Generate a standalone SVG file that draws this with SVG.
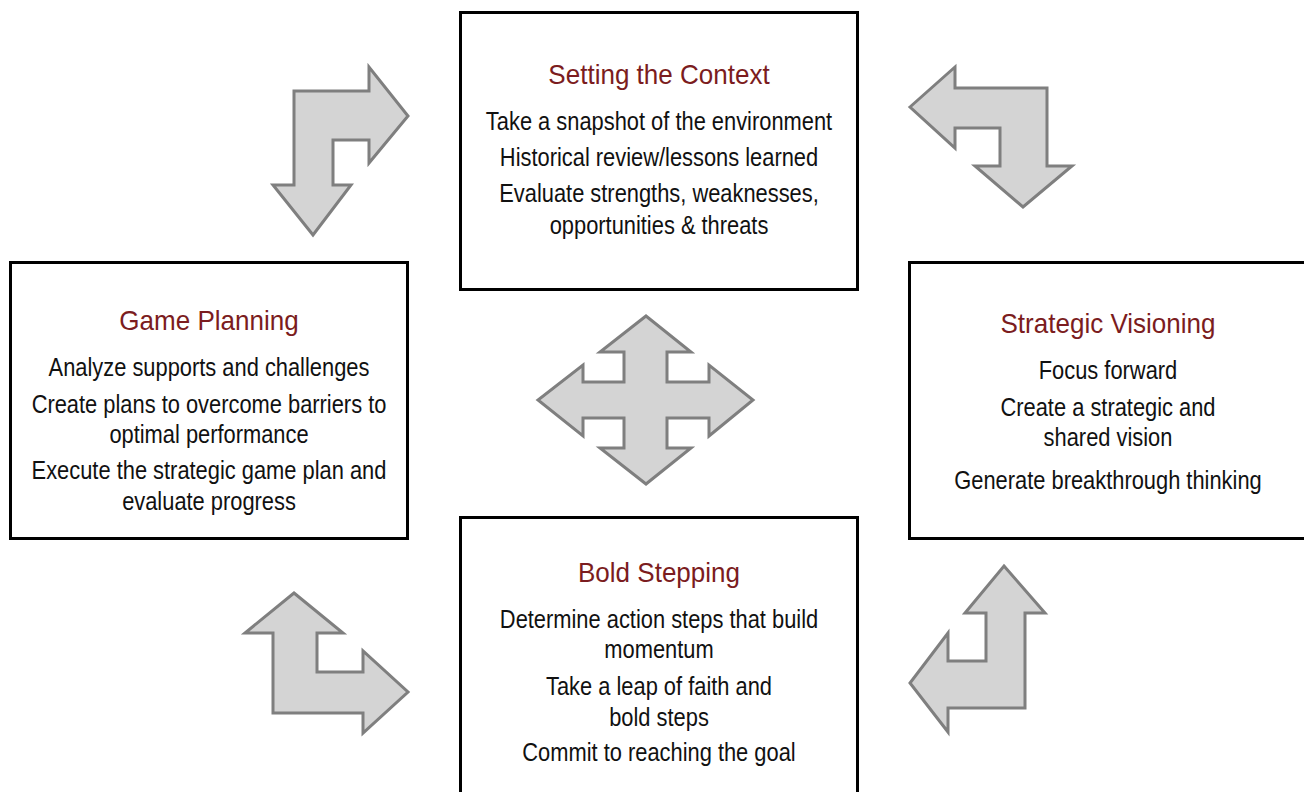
<svg xmlns="http://www.w3.org/2000/svg" width="1304" height="792" viewBox="0 0 1304 792">
<style>
.box{fill:#fff;stroke:#000;stroke-width:3}
.arr{fill:#d4d4d4;stroke:#7f7f7f;stroke-width:3;stroke-linejoin:miter}
.t{font-family:"Liberation Sans",Arial,sans-serif;font-size:28px;fill:#7b1c20;text-anchor:middle}
.b{font-family:"Liberation Sans",Arial,sans-serif;font-size:25px;fill:#111;text-anchor:middle}
</style>
<rect width="1304" height="792" fill="#fff"/>
<g id="connectors">
<path class="arr" d="M294,91 L369,91 L369,67 L408,116 L369,163 L369,140 L333,140 L333,185 L351,185 L313,235 L273,185 L294,185 Z"/>
<path class="arr" d="M910,107 L955,67 L955,88 L1047,88 L1047,166 L1072,166 L1023,207 L975,166 L1000,166 L1000,128 L955,128 L955,148 Z"/>
<path class="arr" d="M646,316 L691,352 L667,352 L667,382 L709,382 L709,365 L753,400 L709,436 L709,418 L667,418 L667,448 L691,448 L646,484 L600,448 L624,448 L624,418 L583,418 L583,436 L538,400 L583,365 L583,382 L624,382 L624,352 L600,352 Z"/>
<path class="arr" d="M294,593 L343,633 L317,633 L317,672 L363,672 L363,651 L408,692 L363,733 L363,713 L273,713 L273,633 L245,633 Z"/>
<path class="arr" d="M1004,566 L1045,613 L1025,613 L1025,708 L948,708 L948,732 L910,683 L948,633 L948,661 L986,661 L986,613 L965,613 Z"/>
</g>
<g id="setting-context">
<rect class="box" x="460.5" y="12.5" width="397" height="277"/>
<text class="t" transform="translate(659 84) scale(0.93 1)">Setting the Context</text>
<text class="b" transform="translate(659 130) scale(0.875 1)">Take a snapshot of the environment</text>
<text class="b" transform="translate(659 166) scale(0.875 1)">Historical review/lessons learned</text>
<text class="b" transform="translate(659 202) scale(0.875 1)">Evaluate strengths, weaknesses,</text>
<text class="b" transform="translate(659 234) scale(0.875 1)">opportunities &amp; threats</text>
</g>
<g id="game-planning">
<rect class="box" x="10.5" y="262.5" width="397" height="276"/>
<text class="t" transform="translate(209 330) scale(0.93 1)">Game Planning</text>
<text class="b" transform="translate(209 376) scale(0.875 1)">Analyze supports and challenges</text>
<text class="b" transform="translate(209 413) scale(0.875 1)">Create plans to overcome barriers to</text>
<text class="b" transform="translate(209 443) scale(0.875 1)">optimal performance</text>
<text class="b" transform="translate(209 479) scale(0.875 1)">Execute the strategic game plan and</text>
<text class="b" transform="translate(209 510) scale(0.875 1)">evaluate progress</text>
</g>
<g id="strategic-visioning">
<rect class="box" x="909.5" y="262.5" width="397" height="276"/>
<text class="t" transform="translate(1108 333) scale(0.93 1)">Strategic Visioning</text>
<text class="b" transform="translate(1108 379) scale(0.875 1)">Focus forward</text>
<text class="b" transform="translate(1108 416) scale(0.875 1)">Create a strategic and</text>
<text class="b" transform="translate(1108 446) scale(0.875 1)">shared vision</text>
<text class="b" transform="translate(1108 489) scale(0.875 1)">Generate breakthrough thinking</text>
</g>
<g id="bold-stepping">
<rect class="box" x="460.5" y="517.5" width="397" height="290"/>
<text class="t" transform="translate(659 582) scale(0.93 1)">Bold Stepping</text>
<text class="b" transform="translate(659 628) scale(0.875 1)">Determine action steps that build</text>
<text class="b" transform="translate(659 658) scale(0.875 1)">momentum</text>
<text class="b" transform="translate(659 695) scale(0.875 1)">Take a leap of faith and</text>
<text class="b" transform="translate(659 726) scale(0.875 1)">bold steps</text>
<text class="b" transform="translate(659 761) scale(0.875 1)">Commit to reaching the goal</text>
</g>
</svg>
